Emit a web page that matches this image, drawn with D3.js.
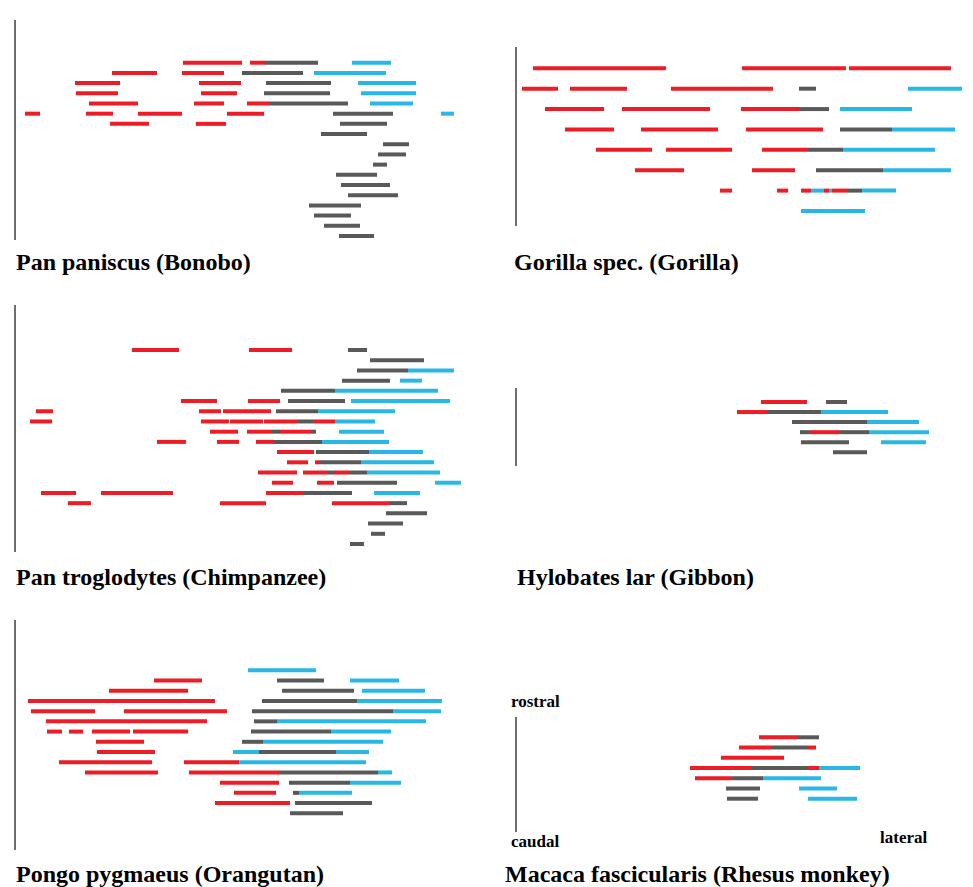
<!DOCTYPE html>
<html>
<head>
<meta charset="utf-8">
<script src="https://cdn.jsdelivr.net/npm/d3@7"></script>
<style>
  html, body { margin: 0; padding: 0; background: #fff; }
  svg { display: block; }
</style>
</head>
<body>
<svg id="chart" width="973" height="887"></svg>
<script>
// ---- Data: [rowIndex (rostral -> caudal), lateral start, lateral end, type] ----
// type: "r" = red, "g" = grey, "b" = blue
const bonobo = [
  [0,183,242,"r"],[0,250,265,"r"],[0,265,318,"g"],[0,352,391,"b"],
  [1,112,157,"r"],[1,182,224,"r"],[1,242,303,"g"],[1,314,386,"b"],
  [2,75,120,"r"],[2,199,241,"r"],[2,266,331,"g"],[2,358,416,"b"],
  [3,76,118,"r"],[3,201,237,"r"],[3,264,330,"g"],[3,361,416,"b"],
  [4,89,138,"r"],[4,194,224,"r"],[4,247,269,"r"],[4,269,348,"g"],[4,370,413,"b"],
  [5,25,40,"r"],[5,86,113,"r"],[5,138,182,"r"],[5,227,264,"r"],[5,333,393,"g"],[5,441,454,"b"],
  [6,110,149,"r"],[6,196,226,"r"],[6,340,387,"g"],
  [7,321,367,"g"],[8,383,409,"g"],[9,378,406,"g"],[10,373,387,"g"],
  [11,336,377,"g"],[12,341,390,"g"],[13,348,398,"g"],[14,309,361,"g"],
  [15,314,351,"g"],[16,324,360,"g"],[17,339,374,"g"]
];
const gorilla = [
  [0,33,166,"r"],[0,242,346,"r"],[0,349,451,"r"],
  [1,22,58,"r"],[1,70,127,"r"],[1,171,273,"r"],[1,299,316,"g"],[1,408,462,"b"],
  [2,45,104,"r"],[2,122,210,"r"],[2,241,300,"r"],[2,300,329,"g"],[2,340,412,"b"],
  [3,65,114,"r"],[3,141,218,"r"],[3,246,323,"r"],[3,340,392,"g"],[3,392,455,"b"],
  [4,96,152,"r"],[4,166,232,"r"],[4,262,308,"r"],[4,308,343,"g"],[4,343,435,"b"],
  [5,135,184,"r"],[5,252,295,"r"],[5,316,383,"g"],[5,383,451,"b"],
  [6,220,232,"r"],[6,277,288,"r"],[6,301,311,"r"],[6,311,324,"b"],[6,324,329,"r"],
  [6,329,332,"b"],[6,332,347,"r"],[6,347,362,"g"],[6,362,396,"b"],
  [7,301,365,"b"]
];
const chimpanzee = [
  [0,132,179,"r"],[0,249,292,"r"],[0,348,367,"g"],
  [1,370,424,"g"],
  [2,357,408,"g"],[2,408,454,"b"],
  [3,342,390,"g"],[3,400,422,"b"],
  [4,281,335,"g"],[4,335,438,"b"],
  [5,181,217,"r"],[5,248,280,"r"],[5,288,345,"g"],[5,351,450,"b"],
  [6,36,53,"r"],[6,199,221,"r"],[6,223,271,"r"],[6,276,318,"g"],[6,318,395,"b"],
  [7,30,52,"r"],[7,201,229,"r"],[7,230,263,"r"],[7,264,297,"r"],[7,297,313,"g"],[7,313,335,"r"],[7,335,375,"b"],
  [8,210,238,"r"],[8,247,272,"r"],[8,272,280,"g"],[8,280,312,"r"],[8,312,316,"g"],[8,339,384,"b"],
  [9,157,186,"r"],[9,217,239,"r"],[9,256,274,"r"],[9,274,322,"g"],[9,322,389,"b"],
  [10,277,314,"r"],[10,316,369,"g"],[10,369,423,"b"],
  [11,287,308,"r"],[11,315,319,"r"],[11,319,361,"g"],[11,361,434,"b"],
  [12,258,297,"r"],[12,303,327,"r"],[12,327,334,"g"],[12,334,350,"r"],[12,350,367,"g"],[12,367,440,"b"],
  [13,272,293,"r"],[13,317,334,"r"],[13,337,397,"g"],[13,435,461,"b"],
  [14,41,76,"r"],[14,101,173,"r"],[14,266,303,"r"],[14,303,352,"g"],[14,374,420,"b"],
  [15,68,91,"r"],[15,220,266,"r"],[15,332,390,"r"],[15,390,407,"g"],
  [16,386,427,"g"],[17,368,403,"g"],[18,371,385,"g"],[19,350,364,"g"]
];
const gibbon = [
  [0,261,307,"r"],[0,326,347,"g"],
  [1,237,267,"r"],[1,267,321,"g"],[1,321,388,"b"],
  [2,292,367,"g"],[2,367,419,"b"],
  [3,300,310,"g"],[3,310,339,"r"],[3,339,369,"g"],[3,369,429,"b"],
  [4,301,349,"g"],[4,381,426,"b"],
  [5,333,367,"g"]
];
const orangutan = [
  [0,248,316,"b"],
  [1,154,202,"r"],[1,277,324,"g"],[1,350,399,"b"],
  [2,109,188,"r"],[2,282,354,"g"],[2,362,425,"b"],
  [3,28,215,"r"],[3,262,357,"g"],[3,357,442,"b"],
  [4,31,95,"r"],[4,124,227,"r"],[4,252,393,"g"],[4,393,441,"b"],
  [5,46,207,"r"],[5,254,277,"g"],[5,277,426,"b"],
  [6,47,62,"r"],[6,69,83,"r"],[6,92,130,"r"],[6,133,188,"r"],[6,251,331,"g"],[6,331,391,"b"],
  [7,96,144,"r"],[7,242,263,"g"],[7,263,383,"b"],
  [8,97,155,"r"],[8,233,259,"b"],[8,259,336,"g"],[8,336,369,"b"],
  [9,59,152,"r"],[9,184,239,"r"],[9,239,366,"b"],
  [10,85,158,"r"],[10,189,280,"r"],[10,280,378,"g"],[10,378,392,"b"],
  [11,220,279,"r"],[11,289,350,"g"],[11,350,401,"b"],
  [12,234,276,"r"],[12,293,299,"g"],[12,299,352,"b"],
  [13,215,290,"r"],[13,295,372,"g"],
  [14,290,343,"g"]
];
const macaque = [
  [0,259,298,"r"],[0,298,319,"g"],
  [1,239,272,"r"],[1,272,308,"g"],[1,308,316,"r"],
  [2,221,284,"r"],
  [3,190,252,"r"],[3,252,308,"g"],[3,308,319,"r"],[3,319,360,"b"],
  [4,195,232,"r"],[4,232,263,"g"],[4,263,321,"b"],
  [5,226,260,"g"],[5,299,337,"b"],
  [6,227,258,"g"],[6,308,357,"b"]
];
const titles = [
  "Pan paniscus (Bonobo)", "Gorilla spec. (Gorilla)",
  "Pan troglodytes (Chimpanzee)", "Hylobates lar (Gibbon)",
  "Pongo pygmaeus (Orangutan)", "Macaca fascicularis (Rhesus monkey)"
];
const orientationLabels = ["rostral", "caudal", "lateral"];

// ---- Layout ----
const colors = { r: "#ee1c24", g: "#595959", b: "#29b8e5" };
const panels = [
  { data: bonobo,     title: titles[0], col: 0, axis: [20, 240],  rows: [62.7, 236],   titleX: 16,  titleY: 270 },
  { data: gorilla,    title: titles[1], col: 1, axis: [47, 226],  rows: [68.3, 211],   titleX: 514, titleY: 270 },
  { data: chimpanzee, title: titles[2], col: 0, axis: [305, 552], rows: [350, 544],    titleX: 16,  titleY: 585 },
  { data: gibbon,     title: titles[3], col: 1, axis: [388, 466], rows: [402, 452.3],  titleX: 517, titleY: 585 },
  { data: orangutan,  title: titles[4], col: 0, axis: [620, 850], rows: [670.3, 813.3],titleX: 16,  titleY: 882 },
  { data: macaque,    title: titles[5], col: 1, axis: [717, 832], rows: [737.3, 798.7],titleX: 505, titleY: 882 }
];
const colX = [0, 500];
const axisX = [15, 516];

const svg = d3.select("#chart");

panels.forEach(p => {
  const g = svg.append("g");
  const x = d3.scaleLinear().domain([0, 470]).range([colX[p.col], colX[p.col] + 470]);
  const nRows = d3.max(p.data, d => d[0]);
  const y = d3.scaleLinear().domain([0, nRows]).range(p.rows);

  g.append("line")
    .attr("x1", axisX[p.col]).attr("x2", axisX[p.col])
    .attr("y1", p.axis[0]).attr("y2", p.axis[1])
    .attr("stroke", "#6e6e6e").attr("stroke-width", 2);

  g.selectAll("line.seg").data(p.data).join("line")
    .attr("class", "seg")
    .attr("x1", d => x(d[1])).attr("x2", d => x(d[2]))
    .attr("y1", d => y(d[0])).attr("y2", d => y(d[0]))
    .attr("stroke", d => colors[d[3]])
    .attr("stroke-width", 4)
    .attr("stroke-linecap", "butt");

  g.append("text")
    .attr("x", p.titleX).attr("y", p.titleY)
    .attr("font-family", "'Liberation Serif', 'Times New Roman', serif")
    .attr("font-weight", "bold")
    .attr("font-size", 24)
    .attr("fill", "#000")
    .text(p.title);
});

// orientation labels (macaque panel)
const lab = svg.append("g")
  .attr("font-family", "'Liberation Serif', 'Times New Roman', serif")
  .attr("font-weight", "bold").attr("font-size", 17).attr("fill", "#000");
lab.append("text").attr("x", 511).attr("y", 707).text(orientationLabels[0]);
lab.append("text").attr("x", 511).attr("y", 847).text(orientationLabels[1]);
lab.append("text").attr("x", 880).attr("y", 843).text(orientationLabels[2]);
</script>
</body>
</html>
